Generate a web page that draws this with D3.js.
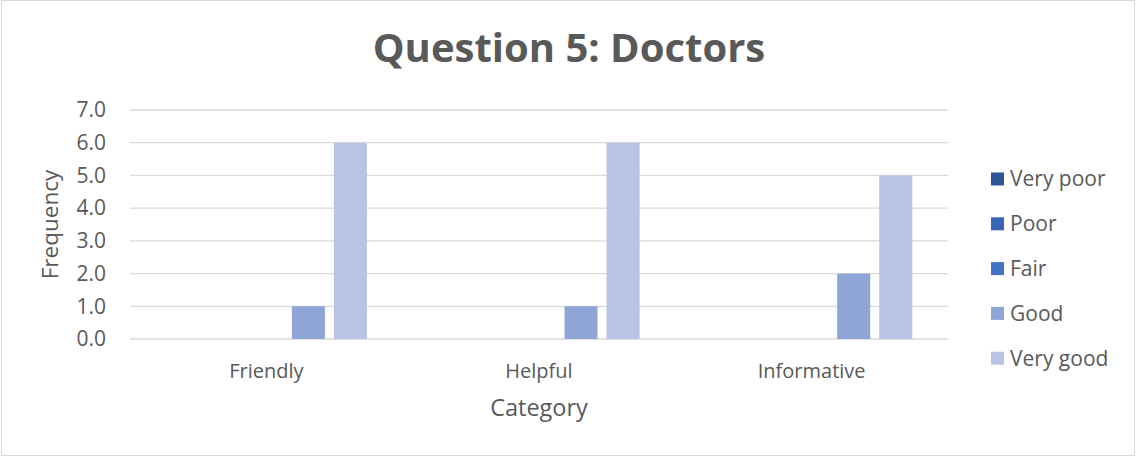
<!DOCTYPE html>
<html>
<head>
<meta charset="utf-8">
<script src="https://cdn.jsdelivr.net/npm/d3@7"></script>
<style>
  body { margin: 0; background: #fff; }
  svg { display: block; font-family: 'Open Sans', sans-serif; }
</style>
</head>
<body>
<svg></svg>
<script>
const categories = ['Friendly', 'Helpful', 'Informative'];
const seriesNames = ['Very poor', 'Poor', 'Fair', 'Good', 'Very good'];
const veryPoor = [0, 0, 0];
const poor = [0, 0, 0];
const fair = [0, 0, 0];
const good = [1, 1, 2];
const veryGood = [6, 6, 5];
const yTicks = [0, 1, 2, 3, 4, 5, 6, 7];
const colors = ['#2f5597', '#3a65b4', '#4472c4', '#8fa5d5', '#b9c4e4'];

const seriesValues = [veryPoor, poor, fair, good, veryGood];

const w = 1136;
const h = 457;
const margin = { top: 110, right: 188, bottom: 118, left: 130 };
const textColor = '#595959';

const svg = d3.select('svg').attr('width', w).attr('height', h);

// chart border
svg.append('rect')
  .attr('x', 1.5).attr('y', 0.5)
  .attr('width', w - 3).attr('height', h - 2)
  .attr('fill', '#fff').attr('stroke', '#d9d9d9');

const y = d3.scaleLinear()
  .domain([0, 7])
  .range([h - margin.bottom, margin.top]);

const x0 = d3.scaleBand()
  .domain(categories)
  .range([margin.left, w - margin.right])
  .padding(0);

const x1 = d3.scaleBand()
  .domain(seriesNames)
  .range([0, x0.bandwidth()])
  .paddingInner(0.214)
  .paddingOuter(0.85);

// gridlines
svg.append('g')
  .selectAll('line')
  .data(yTicks)
  .join('line')
  .attr('x1', margin.left)
  .attr('x2', w - margin.right)
  .attr('y1', d => y(d))
  .attr('y2', d => y(d))
  .attr('stroke', '#d9d9d9')
  .attr('stroke-width', 1.3);

// y tick labels
svg.append('g')
  .selectAll('text')
  .data(yTicks)
  .join('text')
  .attr('x', 106)
  .attr('y', d => y(d))
  .attr('dy', '0.35em')
  .attr('text-anchor', 'end')
  .attr('font-size', 21)
  .attr('fill', textColor)
  .text(d => d.toFixed(1));

// bars
const group = svg.append('g')
  .selectAll('g')
  .data(seriesNames)
  .join('g')
  .attr('fill', (d, i) => colors[i]);

group.selectAll('rect')
  .data((s, i) => categories.map((c, j) => ({ cat: c, series: s, value: seriesValues[i][j] })))
  .join('rect')
  .attr('x', d => x0(d.cat) + x1(d.series))
  .attr('width', x1.bandwidth())
  .attr('y', d => y(d.value))
  .attr('height', d => y(0) - y(d.value));

// category labels
svg.append('g')
  .selectAll('text')
  .data(categories)
  .join('text')
  .attr('x', d => x0(d) + x0.bandwidth() / 2)
  .attr('y', 378)
  .attr('text-anchor', 'middle')
  .attr('font-size', 20)
  .attr('fill', textColor)
  .text(d => d);

// axis titles
svg.append('text')
  .attr('x', (margin.left + w - margin.right) / 2)
  .attr('y', 416)
  .attr('text-anchor', 'middle')
  .attr('font-size', 23.5)
  .attr('fill', textColor)
  .text('Category');

svg.append('text')
  .attr('transform', `translate(58, ${(y(0) + y(7)) / 2}) rotate(-90)`)
  .attr('text-anchor', 'middle')
  .attr('font-size', 22.5)
  .attr('fill', textColor)
  .text('Frequency');

// title
svg.append('text')
  .attr('x', 569)
  .attr('y', 62)
  .attr('text-anchor', 'middle')
  .attr('font-size', 40)
  .attr('font-weight', 'bold')
  .attr('fill', textColor)
  .text('Question 5: Doctors');

// legend
const legend = svg.append('g')
  .selectAll('g')
  .data(seriesNames)
  .join('g')
  .attr('transform', (d, i) => `translate(991, ${179 + i * 44.8})`);

legend.append('rect')
  .attr('x', 0).attr('y', -6.5)
  .attr('width', 13).attr('height', 13)
  .attr('fill', (d, i) => colors[i]);

legend.append('text')
  .attr('x', 19)
  .attr('dy', '0.35em')
  .attr('font-size', 21)
  .attr('fill', textColor)
  .text(d => d);
</script>
</body>
</html>
